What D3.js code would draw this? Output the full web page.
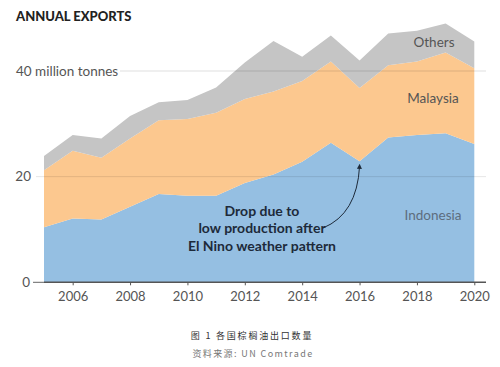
<!DOCTYPE html>
<html><head><meta charset="utf-8">
<script src="https://cdn.jsdelivr.net/npm/d3@7/dist/d3.min.js"></script>
<style>body{margin:0;background:#fff}svg{display:block}</style>
</head><body><svg id="c" width="500" height="367"></svg>
<script>
const years = [2005,2006,2007,2008,2009,2010,2011,2012,2013,2014,2015,2016,2017,2018,2019,2020];
const indonesia = [10.4,12.1,11.9,14.3,16.7,16.4,16.4,18.8,20.4,22.8,26.4,22.9,27.4,27.9,28.2,26.2];
const malaysia  = [10.8,12.8,11.7,12.9,14.0,14.5,15.7,15.9,15.7,15.3,15.4,13.9,13.7,13.9,15.3,14.3];
const others    = [2.7,3.0,3.6,4.3,3.4,3.6,4.8,6.9,9.6,4.6,4.9,5.2,6.0,5.8,5.5,5.1];
const yTicks = [0,20,40];
const xTicks = [2006,2008,2010,2012,2014,2016,2018,2020];
const seriesNames = ["Indonesia","Malaysia","Others"];
const colors = ["#95bfe2","#fcc88f","#c5c5c5"];

const svg = d3.select("#c");
const font = "Lato,'Open Sans',sans-serif";
const x = d3.scaleLinear().domain([2005,2020]).range([44,474.3]);
const y = d3.scaleLinear().domain([0,40]).range([282.3,71]);

const table = years.map((yr,i)=>({year:yr, Indonesia:indonesia[i], Malaysia:malaysia[i], Others:others[i]}));
const stack = d3.stack().keys(seriesNames)(table);
const area = d3.area().x(d=>x(d.data.year)).y0(d=>y(d[0])).y1(d=>y(d[1]));
svg.selectAll("path.a").data(stack).join("path").attr("class","a")
  .attr("d",area).attr("fill",(d,i)=>colors[i]);

// gridlines
svg.append("line").attr("x1",36).attr("x2",486).attr("y1",y(20)).attr("y2",y(20))
  .attr("stroke","rgba(0,0,0,0.10)").attr("stroke-width",1);
svg.append("line").attr("x1",120).attr("x2",486).attr("y1",y(40)).attr("y2",y(40))
  .attr("stroke","rgba(0,0,0,0.13)").attr("stroke-width",1);

// y labels
svg.append("text").attr("x",16).attr("y",y(40)+4.5).text("40 million tonnes")
  .attr("font-family",font).attr("font-size",13.5).attr("fill","#555");
svg.append("text").attr("x",31).attr("y",y(20)+4.5).attr("text-anchor","end").text("20")
  .attr("font-family",font).attr("font-size",13.5).attr("fill","#555");
svg.append("text").attr("x",30).attr("y",y(0)+4.5).attr("text-anchor","end").text("0")
  .attr("font-family",font).attr("font-size",13.5).attr("fill","#555");
svg.append("line").attr("x1",33).attr("x2",44).attr("y1",y(0)).attr("y2",y(0))
  .attr("stroke","#666").attr("stroke-width",1);

// x axis
const ax = svg.append("g").attr("transform",`translate(0,${y(0)})`)
  .call(d3.axisBottom(x).tickValues(xTicks).tickFormat(d3.format("d")).tickSize(3).tickPadding(6));
ax.select(".domain").attr("d",`M${x(2005)},0H486`).attr("stroke","#555").attr("stroke-width",1.5);
ax.selectAll(".tick line").attr("stroke","#555");
ax.selectAll(".tick text").attr("font-family",font).attr("font-size",13).attr("fill","#555");

// title
svg.append("text").attr("x",16).attr("y",21).text("ANNUAL EXPORTS")
  .attr("font-family",font).attr("font-size",13).attr("font-weight","900").attr("fill","#222");

// series labels
const lab = [["Others",434,47,"#555"],["Malaysia",433,103,"#555"],["Indonesia",433,220,"#5d6d7e"]];
lab.forEach(l=>svg.append("text").attr("x",l[1]).attr("y",l[2]).attr("text-anchor","middle").text(l[0])
  .attr("font-family",font).attr("font-size",13.5).attr("fill",l[3]));

// annotation
const ann = ["Drop due to","low production after","El Nino weather pattern"];
ann.forEach((t,i)=>svg.append("text").attr("x",262).attr("y",216+i*17.3).attr("text-anchor","middle").text(t)
  .attr("font-family",font).attr("font-size",14).attr("font-weight","bold").attr("fill","#1d2a3a"));
svg.append("defs").append("marker").attr("id","ah").attr("viewBox","0 0 10 10").attr("refX",5).attr("refY",5)
  .attr("markerWidth",5).attr("markerHeight",5).attr("orient","auto-start-reverse")
  .append("path").attr("d","M0,0L10,5L0,10z").attr("fill","#1d2a3a");
svg.append("path").attr("d",`M323,228 Q357,214 ${x(2016)},${y(indonesia[11])+5}`)
  .attr("fill","none").attr("stroke","#1d2a3a").attr("stroke-width",1).attr("marker-end","url(#ah)");

// caption
const cjk = "'Noto Sans CJK SC',sans-serif";
svg.append("text").attr("x",252).attr("y",339).attr("text-anchor","middle").text("图 1 各国棕榈油出口数量")
  .attr("font-family",cjk).attr("font-size",9).attr("fill","#333").attr("letter-spacing",1.8);
svg.append("text").attr("x",253).attr("y",357).attr("text-anchor","middle").text("资料来源: UN Comtrade")
  .attr("font-family","'Noto Sans CJK SC','Liberation Mono',monospace").attr("font-size",9).attr("fill","#777").attr("letter-spacing",1.4);
</script></body></html>
